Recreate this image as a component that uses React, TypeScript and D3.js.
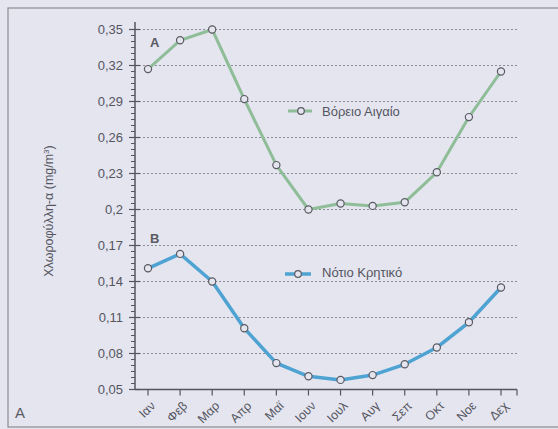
import React from "react";
import * as d3 from "d3";

const months = ["Ιαν", "Φεβ", "Μαρ", "Απρ", "Μαϊ", "Ιουν", "Ιουλ", "Αυγ", "Σεπ", "Οκτ", "Νοε", "Δεχ"];
const northAegean = [0.317, 0.341, 0.35, 0.292, 0.237, 0.2, 0.205, 0.203, 0.206, 0.231, 0.277, 0.315];
const southCrete = [0.151, 0.163, 0.14, 0.101, 0.072, 0.061, 0.058, 0.062, 0.071, 0.085, 0.106, 0.135];
const yTicks = [0.05, 0.08, 0.11, 0.14, 0.17, 0.2, 0.23, 0.26, 0.29, 0.32, 0.35];
const seriesNames = ["Βόρειο Αιγαίο", "Νότιο Κρητικό"];
const panelLabels = ["A", "B"];

const W = 558;
const H = 429;
const FONT = "'Liberation Sans', Arial, sans-serif";

export default function App() {
  const x = d3.scalePoint<string>().domain(months).range([148, 501]);
  const y = d3.scaleLinear().domain([0.05, 0.35]).range([389.5, 29.5]);
  const axisX0 = 135;
  const axisX1 = 517;

  const lineA = d3
    .line<number>()
    .x((_, i) => x(months[i]) as number)
    .y((d) => y(d))
    .curve(d3.curveLinear);
  const lineB = d3
    .line<number>()
    .x((_, i) => x(months[i]) as number)
    .y((d) => y(d))
    .curve(d3.curveLinear);

  const minor: number[] = [];
  for (let i = 0; i < yTicks.length - 1; i++) {
    for (let k = 1; k < 6; k++) {
      minor.push(yTicks[i] + ((yTicks[i + 1] - yTicks[i]) * k) / 6);
    }
  }

  const axisColor = "#55555f";
  const textColor = "#55555f";
  const green = "#8fbd98";
  const blue = "#4ea3d2";
  const bg = "#e4e5ef";

  return (
    <svg width={W} height={H} style={{ position: "absolute", left: 0, top: 0, display: "block" }}>
      <rect x={0} y={0} width={W} height={H} fill={bg} />
      <rect x={8} y={8} width={W + 20} height={419} fill="none" stroke="#8a8a92" strokeWidth={1.2} />

      {/* gridlines */}
      {yTicks.slice(1).map((t) => (
        <line
          key={"g" + t}
          x1={axisX0}
          x2={axisX1}
          y1={y(t)}
          y2={y(t)}
          stroke="#8c8c96"
          strokeWidth={1}
          strokeDasharray="2,2"
        />
      ))}

      {/* y axis */}
      <line x1={axisX0} x2={axisX0} y1={22} y2={y(0.05)} stroke={axisColor} strokeWidth={1.5} />
      {minor.map((t, i) => (
        <line key={"m" + i} x1={axisX0 - 4} x2={axisX0} y1={y(t)} y2={y(t)} stroke={axisColor} strokeWidth={1} />
      ))}
      {yTicks.map((t) => (
        <g key={"t" + t}>
          <line x1={axisX0 - 6} x2={axisX0 + 5} y1={y(t)} y2={y(t)} stroke={axisColor} strokeWidth={1.2} />
          <text
            x={123}
            y={y(t)}
            dy="0.35em"
            textAnchor="end"
            fontFamily={FONT}
            fontSize={13}
            fill={textColor}
          >
            {d3.format(".2~f")(t).replace(".", ",")}
          </text>
        </g>
      ))}

      {/* x axis */}
      <line x1={axisX0} x2={axisX1} y1={y(0.05)} y2={y(0.05)} stroke={axisColor} strokeWidth={1.5} />
      {months.map((m) => (
        <g key={"x" + m}>
          <line x1={x(m)} x2={x(m)} y1={y(0.05)} y2={y(0.05) + 6} stroke={axisColor} strokeWidth={1.2} />
          <text
            transform={`translate(${(x(m) as number) + 5},${y(0.05) + 14}) rotate(-45)`}
            textAnchor="end"
            dy="0.35em"
            fontFamily={FONT}
            fontSize={12.5}
            fill={textColor}
          >
            {m}
          </text>
        </g>
      ))}
      <line x1={axisX1} x2={axisX1} y1={y(0.05)} y2={y(0.05) + 6} stroke={axisColor} strokeWidth={1.2} />

      {/* y label */}
      <text
        transform={`translate(53,${211}) rotate(-90)`}
        textAnchor="middle"
        fontFamily={FONT}
        fontSize={12.5}
        fill={textColor}
      >
        Χλωροφύλλη-α (mg/m<tspan dy="-4" fontSize={8}>3</tspan>
        <tspan dy="4">)</tspan>
      </text>

      {/* series */}
      <path d={lineA(northAegean) || ""} fill="none" stroke={green} strokeWidth={3} strokeLinejoin="round" />
      <path d={lineB(southCrete) || ""} fill="none" stroke={blue} strokeWidth={3.5} strokeLinejoin="round" />
      {northAegean.map((v, i) => (
        <circle key={"a" + i} cx={x(months[i])} cy={y(v)} r={3.6} fill={bg} stroke="#5a5a62" strokeWidth={1.2} />
      ))}
      {southCrete.map((v, i) => (
        <circle key={"b" + i} cx={x(months[i])} cy={y(v)} r={3.6} fill={bg} stroke="#5a5a62" strokeWidth={1.2} />
      ))}

      {/* panel labels */}
      <text x={150} y={47} fontFamily={FONT} fontSize={13} fontWeight="bold" fill="#5a5a62">
        {panelLabels[0]}
      </text>
      <text x={150} y={243} fontFamily={FONT} fontSize={13} fontWeight="bold" fill="#5a5a62">
        {panelLabels[1]}
      </text>

      {/* legends */}
      <line x1={288} x2={312} y1={111} y2={111} stroke={green} strokeWidth={3} />
      <circle cx={301} cy={111} r={3.3} fill={bg} stroke="#5a5a62" strokeWidth={1.2} />
      <text x={322} y={116} fontFamily={FONT} fontSize={13} fill={textColor}>
        {seriesNames[0]}
      </text>
      <line x1={285} x2={311} y1={274} y2={274} stroke={blue} strokeWidth={3.5} />
      <circle cx={298} cy={274} r={3.3} fill={bg} stroke="#5a5a62" strokeWidth={1.2} />
      <text x={322} y={277} fontFamily={FONT} fontSize={13} fill={textColor}>
        {seriesNames[1]}
      </text>

      <text x={15} y={418} fontFamily={FONT} fontSize={15} fill="#5a5a62">
        A
      </text>
    </svg>
  );
}
